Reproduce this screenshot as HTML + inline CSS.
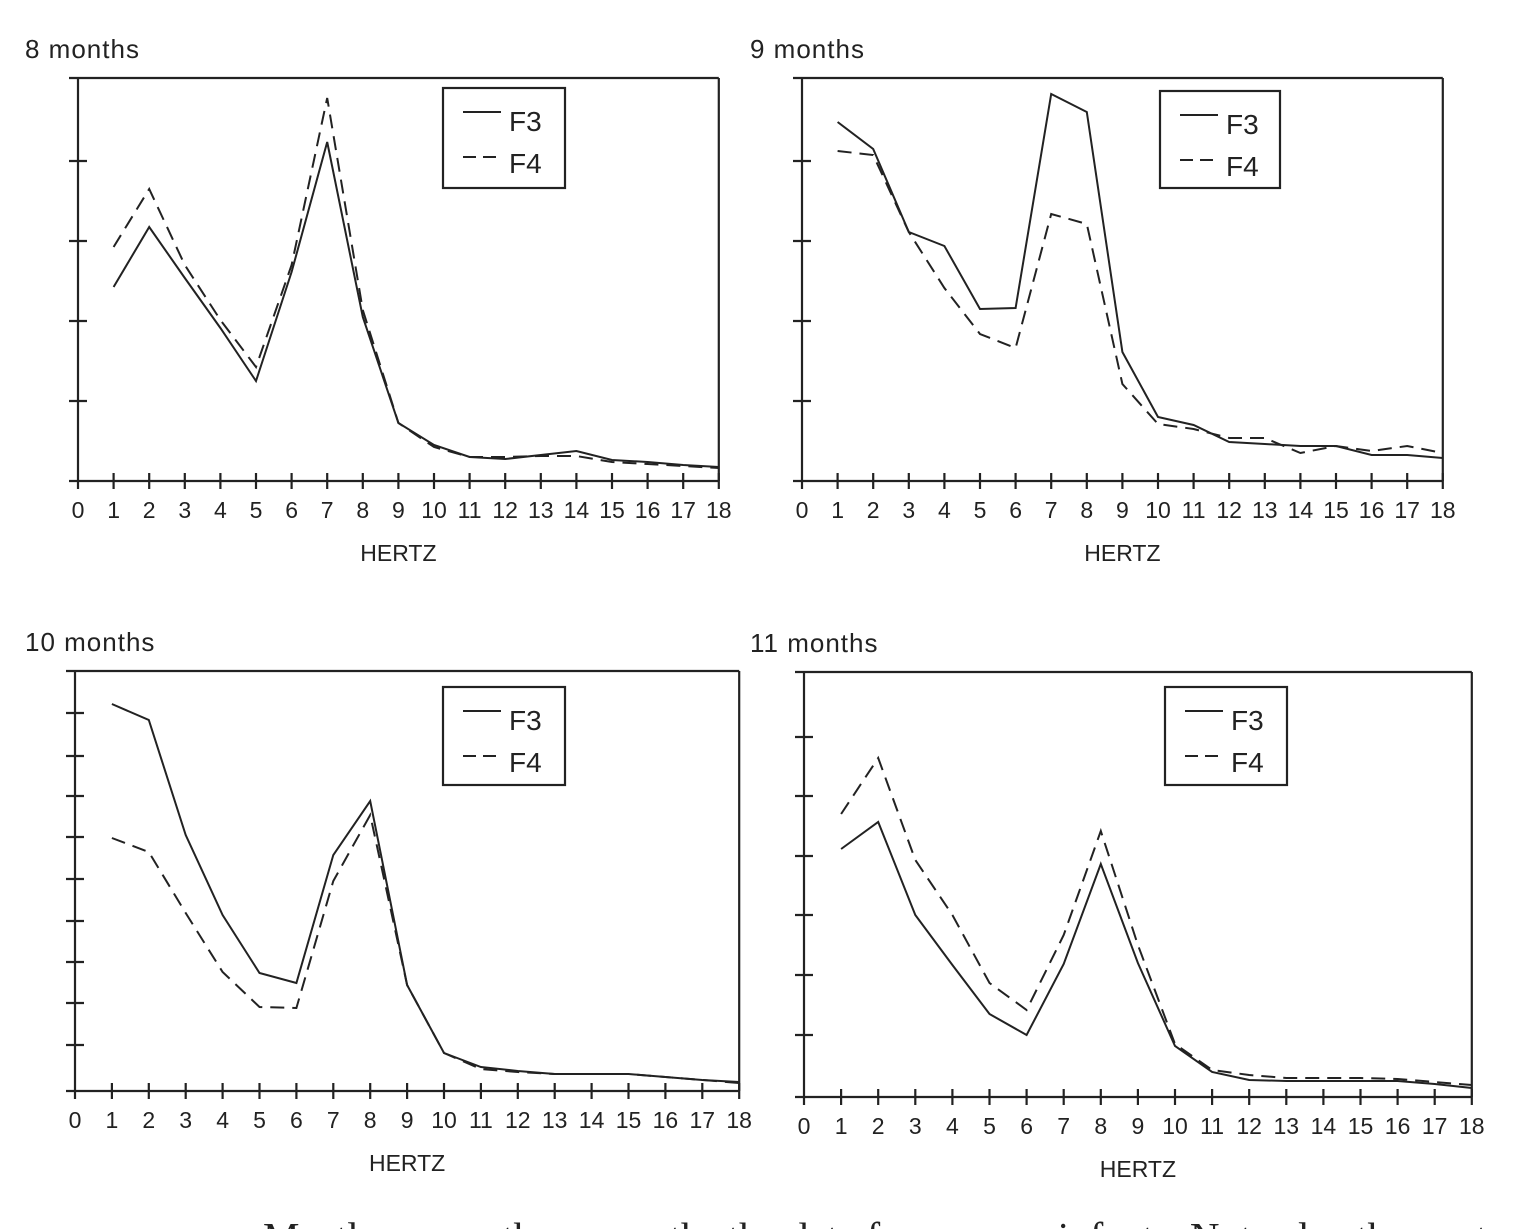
<!DOCTYPE html>
<html><head><meta charset="utf-8"><style>
html,body{margin:0;padding:0;background:#fff;}
svg{display:block;}
text{font-family:"Liberation Sans",sans-serif;fill:#222;}
</style></head><body>
<svg width="1518" height="1229" viewBox="0 0 1518 1229" xmlns="http://www.w3.org/2000/svg">
<g id="charts" stroke="#222" fill="none" stroke-width="2.2"></g>
<g id="labels"></g>
<text x="263" y="1251" style="font-family:'Liberation Serif',serif;font-size:41px;fill:#222">Mostly across these months the data from many infants.  Note also the contrast in results of</text>
</svg>
<script>
const NS="http://www.w3.org/2000/svg";
const G=document.getElementById('charts'),L=document.getElementById('labels');
function el(p,t,a,txt){const e=document.createElementNS(NS,t);for(const k in a)e.setAttribute(k,a[k]);if(txt!==undefined)e.textContent=txt;p.appendChild(e);return e;}
function line(x1,y1,x2,y2,extra){el(G,'line',Object.assign({x1,y1,x2,y2},extra||{}));}
const charts=[
{title:"8 months",tx:25,x0:78,unit:35.6,top:78,bot:481,yt:[161,241,321,401],lx:443,ly:88,lw:122,lh:100,
 f3:[287,227,278,328,381,272,142,317,423,445,457,459,455,451,460,462,465,467],
 f4:[247,189,265,320,367,265,98,310,423,447,457,457,456,456,462,464,466,468]},
{title:"9 months",tx:750,x0:802,unit:35.6,top:78,bot:481,yt:[161,241,321,401],lx:1160,ly:91,lw:120,lh:97,
 f3:[122,149,232,246,309,308,94,112,352,417,425,442,444,446,446,455,455,458],
 f4:[151,155,232,288,334,348,214,224,384,424,429,438,438,453,446,451,446,453]},
{title:"10 months",tx:25,x0:75,unit:36.9,top:671,bot:1091,yt:[713,756,796,837,879,921,962,1003,1045],lx:443,ly:687,lw:122,lh:98,
 f3:[704,720,835,915,973,983,855,801,985,1053,1067,1071,1074,1074,1074,1077,1080,1082],
 f4:[838,852,913,972,1007,1008,881,815,985,1053,1069,1072,1074,1074,1074,1077,1080,1083]},
{title:"11 months",tx:750,x0:804,unit:37.1,top:672,bot:1097,yt:[737,796,856,915,975,1035],lx:1165,ly:687,lw:122,lh:98,
 f3:[849,822,915,965,1014,1035,964,864,963,1046,1072,1080,1081,1081,1081,1081,1084,1088],
 f4:[814,758,860,915,983,1010,935,831,945,1044,1070,1075,1078,1078,1078,1079,1082,1085]}
];
charts.forEach(c=>{
 const right=c.x0+18*c.unit;
 el(L,'text',{x:c.tx,y:c.top-20,'font-size':26,'letter-spacing':'1'},c.title);
 line(c.x0-9,c.top,right,c.top);
 line(right,c.top,right,c.bot);
 line(c.x0,c.top,c.x0,c.bot+8);
 line(c.x0-9,c.bot,right,c.bot);
 c.yt.forEach(y=>line(c.x0-9,y,c.x0+9,y));
 for(let i=0;i<=18;i++){const x=c.x0+i*c.unit;if(i>0)line(x,c.bot-8,x,c.bot+8);
  el(L,'text',{x:x,y:c.bot+37,'font-size':23,'text-anchor':'middle'},String(i));}
 el(L,'text',{x:c.x0+9*c.unit,y:c.bot+80,'font-size':23,'text-anchor':'middle'},"HERTZ");
 const p3=c.f3.map((y,i)=>(c.x0+(i+1)*c.unit)+","+y).join(" ");
 const p4=c.f4.map((y,i)=>(c.x0+(i+1)*c.unit)+","+y).join(" ");
 el(G,'polyline',{points:p3,'stroke-width':2});
 el(G,'polyline',{points:p4,'stroke-width':2,'stroke-dasharray':'14,8'});
 el(G,'rect',{x:c.lx,y:c.ly,width:c.lw,height:c.lh});
 line(c.lx+20,c.ly+24,c.lx+58,c.ly+24,{'stroke-width':2});
 line(c.lx+20,c.ly+69,c.lx+58,c.ly+69,{'stroke-width':2,'stroke-dasharray':'13,7'});
 el(L,'text',{x:c.lx+66,y:c.ly+43,'font-size':28},"F3");
 el(L,'text',{x:c.lx+66,y:c.ly+85,'font-size':28},"F4");
});
</script>
</body></html>
